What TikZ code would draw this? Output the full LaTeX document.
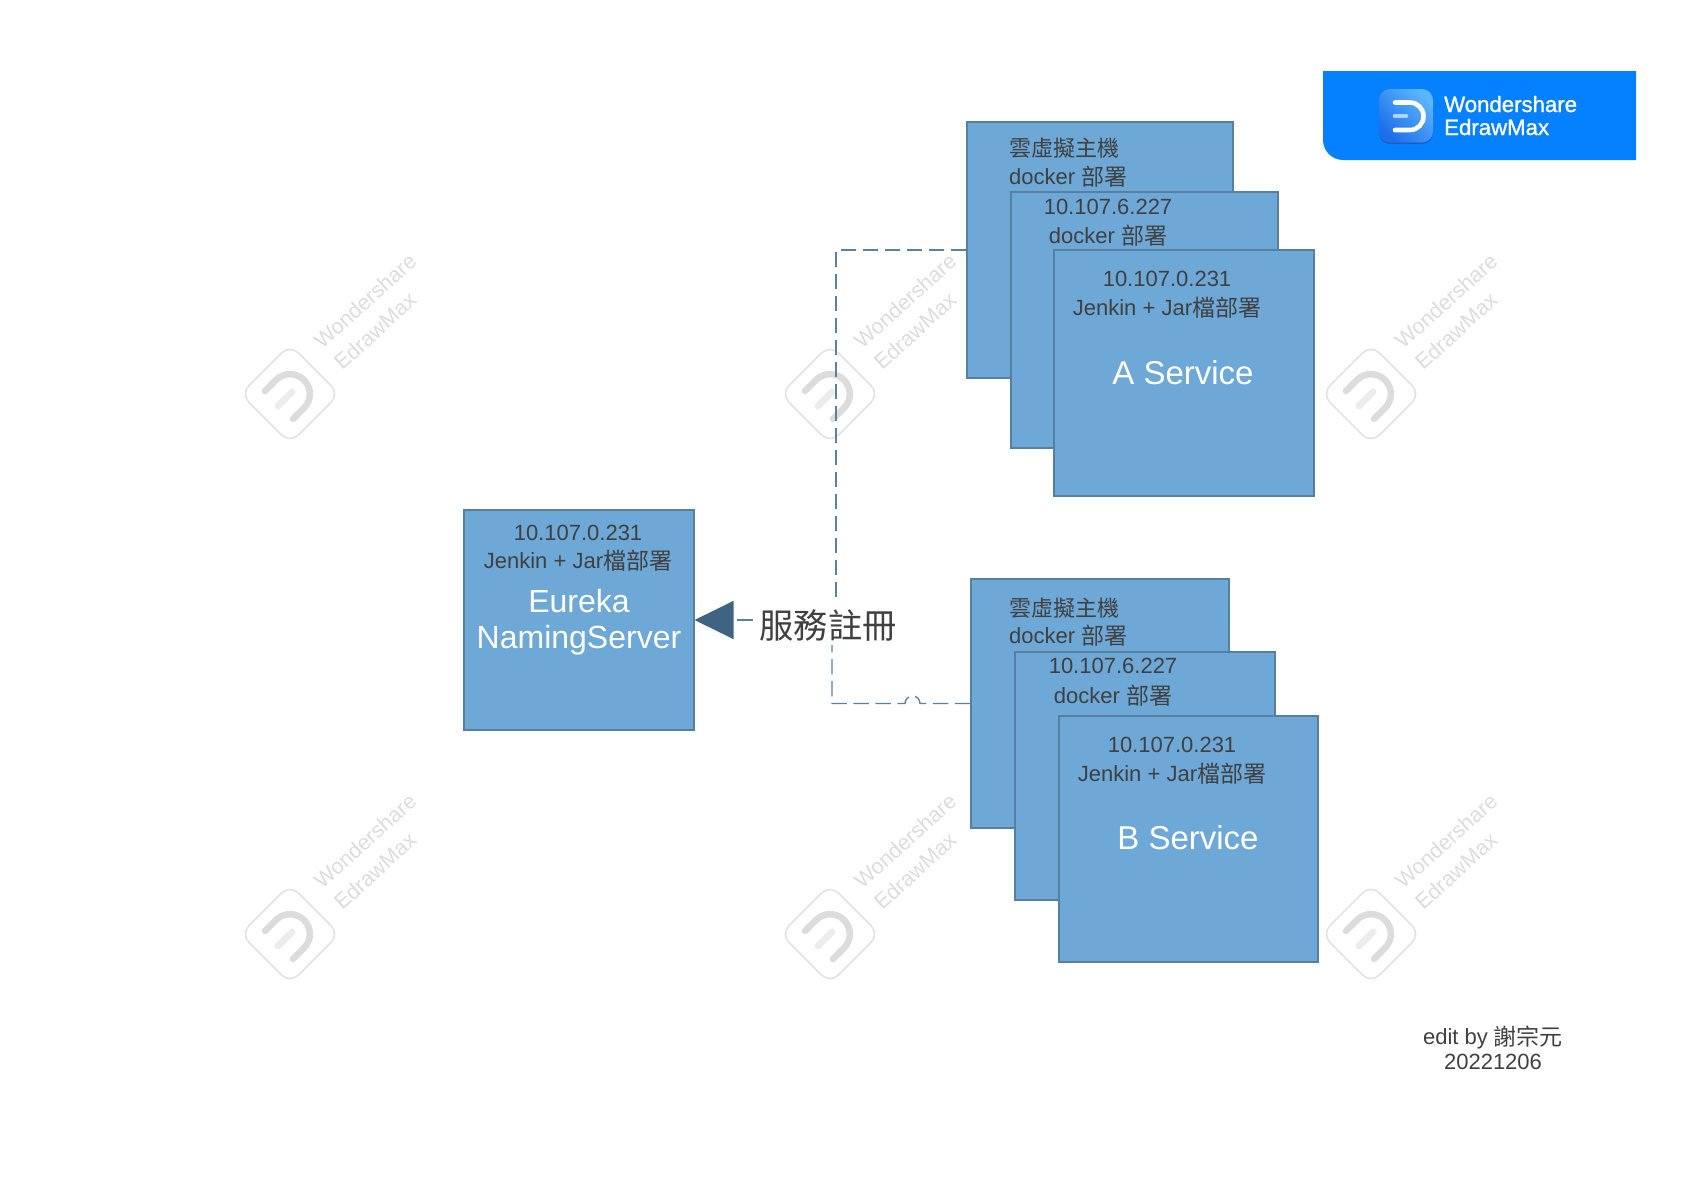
\documentclass[tikz,border=0pt]{standalone}
\usepackage{fontspec}
\usetikzlibrary{arrows.meta}
\setmainfont{Liberation Sans}
\newfontfamily\cjk{Noto Sans CJK TC}
\newfontface\logof{Liberation Sans}[FakeBold=1.2]
\newcommand\cjin[1]{\raisebox{-1.5pt}{\fontsize{23}{26}\selectfont\cjk #1}}
\definecolor{boxfill}{HTML}{6DA8D6}
\definecolor{boxline}{HTML}{55809F}
\definecolor{ink}{HTML}{404040}
\definecolor{conn}{HTML}{5A829F}
\definecolor{tip}{HTML}{3F6482}
\definecolor{wmark}{HTML}{DCDCDC}
\definecolor{wmarklight}{HTML}{ECECEC}
\definecolor{badge}{HTML}{0580FF}
\definecolor{iconedge}{HTML}{1A5FC0}
\definecolor{iconA}{HTML}{5DB5FF}
\definecolor{iconB}{HTML}{1C6FE8}
\definecolor{dbar}{HTML}{A8D4FF}
\tikzset{
  box/.style={draw=boxline,fill=boxfill,line width=1.1pt,inner sep=0pt},
  txt/.style={inner sep=0pt,anchor=base,text=ink,font=\fontsize{22}{26}\selectfont},
  ltxt/.style={txt,anchor=base west},
  title/.style={inner sep=0pt,anchor=base,text=white,font=\fontsize{32}{36}\selectfont},
  wmtxt/.style={inner sep=0pt,text=wmark,rotate=42,font=\fontsize{21.5}{26}\selectfont},
  link/.style={draw=conn,line width=1.4pt,dash pattern=on 15.5pt off 6.5pt},
  logotxt/.style={inner sep=0pt,anchor=base west,text=white,font=\logof\fontsize{22.2}{26}\selectfont}
}
\begin{document}
\begin{tikzpicture}[x=1pt,y=-1pt]
\useasboundingbox (0,0) rectangle (1706,1186);
% watermarks
\foreach \n/\x/\y in {1/290/394,2/830/394,3/1371/394,4/290/934,5/830/934,6/1371/934}{
\begin{scope}[shift={(\x,\y)}]
  \node[draw=wmark!85,line width=1.5pt,rounded corners=12pt,minimum width=70pt,minimum height=70pt,rotate=45,inner sep=0pt] (wmbox\n) at (0,0) {};
  \draw[wmark,line width=6.5pt,line cap=round] (-25,-3) -- (-14,-14) .. controls (-6.2,-21.8) and (6.2,-21.8) .. (14,-14) .. controls (21.8,-6.2) and (21.8,6.2) .. (14,14) -- (3,25);
  \draw[wmarklight,line width=7pt,line cap=round] (-12,12) -- (2,-2);
  \node[wmtxt] (wmA\n) at (75,-93) {Wondershare};
  \node[wmtxt] (wmB\n) at (85,-63) {EdrawMax};
\end{scope}}
% badge
\fill[badge] (1323,71) -- (1636,71) -- (1636,160) -- (1343,160) .. controls (1332,160) and (1323,151) .. (1323,140) -- cycle;
\fill[iconedge,rounded corners=11pt] (1379,91) rectangle (1433,144);
\shade[rounded corners=11pt,shading=axis,left color=iconA,right color=iconB,shading angle=-45] (1379,89) rectangle (1433,142.5);
\draw[white,line width=4.6pt,line cap=round] (1395,102.5) -- (1410,102.5) .. controls (1417.5,102.5) and (1423.5,108.6) .. (1423.5,116.25) .. controls (1423.5,123.9) and (1417.5,130) .. (1410,130) -- (1395,130);
\draw[dbar,line width=4.6pt,line cap=round] (1395,116) -- (1406,116);
\node[logotxt] (logoA) at (1444,112) {Wondershare};
\node[logotxt] (logoB) at (1444,135) {EdrawMax};
% boxes at the ends of the connectors
\node[box,minimum width=230pt,minimum height=220pt] (E) at (579,620) {};
\node[box,minimum width=266pt,minimum height=256pt] (A1) at (1100,250) {};
\node[box,minimum width=258pt,minimum height=249pt] (B1) at (1100,703.5) {};
% connectors
\coordinate (ja) at (836,250);
\coordinate (jb) at (836,620);
\coordinate (jc) at (832,703.5);
\coordinate (jd) at (832,620);
\draw[link] (A1.west) -- (ja) -- (jb);
\draw[link,dash phase=4.5pt,-{Triangle[length=39pt,width=38pt,fill=tip,color=tip]}] (jb) -- (E.east);
\draw[link] (B1.west) -- (920,703.5) .. controls (920,699.36) and (916.64,696) .. (912.5,696) .. controls (908.36,696) and (905,699.36) .. (905,703.5) -- (jc) -- (jd);
\node[fill=white,inner sep=0pt,minimum width=144pt,minimum height=46pt] (lab) at (828,622) {};
\node[txt,font=\fontsize{34.3}{38}\selectfont] (labt) at (828,638) {\cjk 服務註冊};
% stacked boxes
\node[box,minimum width=267pt,minimum height=256pt] (A2) at (1144.5,320) {};
\node[box,minimum width=260pt,minimum height=246pt] (A3) at (1184,373) {};
\node[box,minimum width=260pt,minimum height=248pt] (B2) at (1145,776) {};
\node[box,minimum width=259pt,minimum height=246pt] (B3) at (1188.5,839) {};
% texts
\node[ltxt] (a1a) at (1009,156.5) {\cjk 雲虛擬主機};
\node[ltxt] (a1b) at (1009,184) {docker \cjin{部署}};
\node[txt] (a2a) at (1108,214) {10.107.6.227};
\node[txt] (a2b) at (1108,243) {docker \cjin{部署}};
\node[txt] (a3a) at (1167,286) {10.107.0.231};
\node[txt] (a3b) at (1167,315) {Jenkin + Jar\cjin{檔部署}};
\node[title,font=\fontsize{33}{36}\selectfont] (a3c) at (1183,384) {A Service};
\node[txt] (ea) at (578,540) {10.107.0.231};
\node[txt] (eb) at (578,568) {Jenkin + Jar\cjin{檔部署}};
\node[title] (ec) at (579,612) {Eureka};
\node[title] (ed) at (579,648) {NamingServer};
\node[ltxt] (b1a) at (1009,616) {\cjk 雲虛擬主機};
\node[ltxt] (b1b) at (1009,643) {docker \cjin{部署}};
\node[txt] (b2a) at (1113,673) {10.107.6.227};
\node[txt] (b2b) at (1113,703) {docker \cjin{部署}};
\node[txt] (b3a) at (1172,752) {10.107.0.231};
\node[txt] (b3b) at (1172,781) {Jenkin + Jar\cjin{檔部署}};
\node[title,font=\fontsize{33}{36}\selectfont] (b3c) at (1188,849) {B Service};
\node[txt] (fa) at (1493,1044) {edit by \cjin{謝宗元}};
\node[txt] (fb) at (1493,1069) {20221206};
\end{tikzpicture}
\end{document}
